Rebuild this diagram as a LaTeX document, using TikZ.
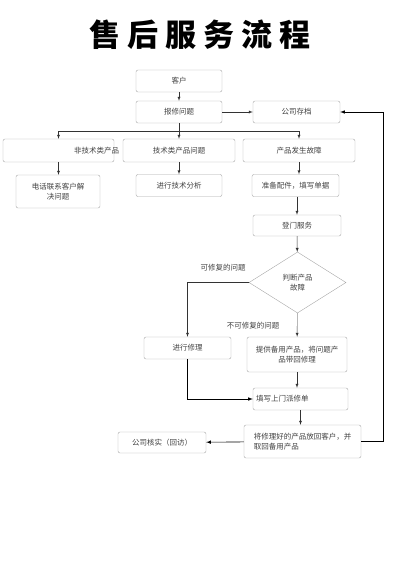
\documentclass[tikz,border=0pt]{standalone}
\usepackage{fontspec}
\newfontfamily\cjk{Noto Sans CJK SC}
\usetikzlibrary{shapes.geometric}

\tikzset{
  box/.style={draw=gray!70, rounded corners=2pt, font=\cjk\fontsize{7.5}{9.5}\selectfont,
    text=black!75, inner sep=1pt, align=center},
  note/.style={font=\cjk\fontsize{7.5}{9.5}\selectfont, text=black!75, inner sep=0pt}
}

\begin{document}
\begin{tikzpicture}[x=1pt,y=-1pt,>=latex]
  \useasboundingbox (0,0) rectangle (400,584);
  \node[font=\cjk\bfseries\fontsize{31}{33}\selectfont] (title) at (200,35)
    {售\hspace{7pt}后\hspace{7pt}服\hspace{7pt}务\hspace{7pt}流\hspace{7pt}程};
  % boxes
  \node[box,minimum width=86pt,minimum height=22pt] (kehu) at (179,81) {客户};
  \node[box,minimum width=86pt,minimum height=22pt] (baoxiu) at (179,112) {报修问题};
  \node[box,minimum width=87pt,minimum height=22pt] (cundang) at (296.5,112) {公司存档};
  \node[box,minimum width=111pt,minimum height=23pt,inner xsep=0pt] (feiji) at (58.5,150.5)
    {\makebox[111pt][r]{非技术类产品\kern-5pt}};
  \node[box,minimum width=112pt,minimum height=23pt] (jishu) at (179,150.5) {技术类产品问题};
  \node[box,minimum width=112pt,minimum height=23pt] (guzhang) at (299,150.5) {产品发生故障};
  \node[box,minimum width=84pt,minimum height=33pt] (dianhua) at (58,191.5) {电话联系客户解\\决问题};
  \node[box,minimum width=86pt,minimum height=22pt] (fenxi) at (179,185.5) {进行技术分析};
  \node[box,minimum width=87pt,minimum height=22pt] (peijian) at (295.5,185.5) {准备配件，填写单据};
  \node[box,minimum width=88pt,minimum height=21pt] (dengmen) at (297,225.5) {登门服务};
  \node[box,shape=diamond,rounded corners=0pt,minimum width=97pt,minimum height=61pt,
    inner sep=0pt] (panduan) at (297.5,282.5) {判断产品\\故障};
  \node[box,minimum width=87pt,minimum height=22pt] (xiuli) at (187.5,348) {进行修理};
  \node[box,minimum width=100pt,minimum height=35pt] (beiyong) at (297,354.5)
    {提供备用产品，将问题产\\品带回修理};
  \node[box,minimum width=95pt,minimum height=22pt,inner xsep=0pt] (paixiu) at (300.5,399)
    {\makebox[95pt][l]{\kern3pt 填写上门派修单}};
  \node[box,minimum width=117pt,minimum height=33pt,align=left] (fanghui) at (302.5,441.5)
    {将修理好的产品放回客户，并\\取回备用产品};
  \node[box,minimum width=88pt,minimum height=21pt] (hefang) at (162,442.5) {公司核实（回访）};
  % labels
  \node[note] (kexiu) at (223,268) {可修复的问题};
  \node[note] (bukexiu) at (253,326) {不可修复的问题};
  % connectors
  \coordinate (fen) at (179,131);
  \draw[->,black!80] (kehu) -- (baoxiu);
  \draw[->,black!80] (baoxiu) -- (cundang);
  \draw[black!80] (baoxiu) -- (fen);
  \draw[->,black!80] (fen) -| (feiji.north);
  \draw[->,black!80] (fen) -- (jishu.north);
  \draw[->,black!80] (fen) -| (guzhang.north);
  \draw[->,black!80] (feiji.south) -- (feiji.south |- dianhua.north);
  \draw[->,black!80] (jishu) -- (fenxi);
  \draw[->,black!80] (guzhang.south) -- (guzhang.south |- peijian.north);
  \draw[->,black!80] (peijian.south -| dengmen) -- (dengmen.north);
  \draw[->,black!80] (dengmen) -- (panduan);
  \draw[->,black!80] (panduan.west) -| (xiuli.north);
  \draw[->,black!80] (panduan) -- (beiyong);
  \draw[->,black!80] (beiyong.south) -- (beiyong.south |- paixiu.north);
  \draw[->,black!80] (paixiu.south) -- (paixiu.south |- fanghui.north);
  \draw[->,semithick] (xiuli.south) |- (paixiu.west);
  \draw[->,semithick] (fanghui.east) -- ++(22,0) |- (cundang.east);
  \draw[->,semithick] (fanghui) -- (hefang);
\end{tikzpicture}
\end{document}
